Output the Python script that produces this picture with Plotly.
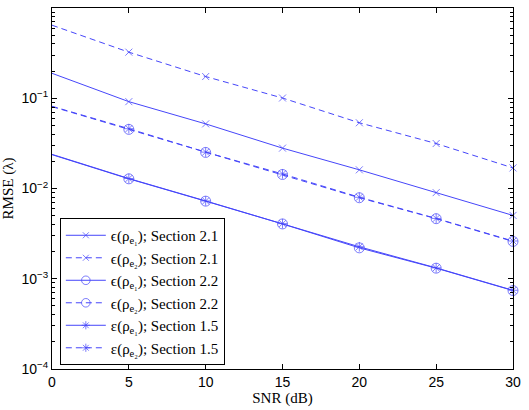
import plotly.graph_objects as go

snr = [0, 5, 10, 15, 20, 25, 30]

rmse_s21_e1 = [0.189, 0.0917, 0.052, 0.028, 0.0161, 0.0090, 0.00503]
rmse_s21_e2 = [0.645, 0.324, 0.174, 0.1006, 0.0535, 0.0315, 0.0169]
rmse_s22_e1 = [0.0237, 0.0128, 0.00724, 0.00405, 0.00220, 0.00131, 0.00074]
rmse_s22_e2 = [0.0808, 0.0452, 0.0251, 0.0143, 0.0079, 0.00463, 0.00259]
rmse_s15_e1 = [0.0239, 0.0129, 0.00728, 0.00408, 0.00226, 0.00132, 0.000745]
rmse_s15_e2 = [0.0815, 0.0460, 0.0253, 0.0145, 0.0080, 0.00466, 0.00262]

names = [
    "ϵ(ρ<sub>e₁</sub>); Section 2.1",
    "ϵ(ρ<sub>e₂</sub>); Section 2.1",
    "ϵ(ρ<sub>e₁</sub>); Section 2.2",
    "ϵ(ρ<sub>e₂</sub>); Section 2.2",
    "ε(ρ<sub>e₁</sub>); Section 1.5",
    "ε(ρ<sub>e₂</sub>); Section 1.5",
]
series = [rmse_s21_e1, rmse_s21_e2, rmse_s22_e1, rmse_s22_e2, rmse_s15_e1, rmse_s15_e2]
symbols = ["x-thin-open", "x-thin-open", "circle-open", "circle-open", "asterisk-open", "asterisk-open"]
sizes = [7, 7, 10, 10, 8, 8]
dashes = ["solid", "6px,4px", "solid", "6px,4px", "solid", "6px,4px"]

color = "rgb(70,70,250)"
fig = go.Figure()
for nm, ys, sym, sz, ds in zip(names, series, symbols, sizes, dashes):
    fig.add_trace(go.Scatter(
        x=snr, y=ys, name=nm, mode="lines+markers",
        line=dict(color=color, width=1, dash=ds),
        marker=dict(symbol=sym, size=[0] + [sz] * (len(snr) - 1), color=color,
                    line=dict(color=color, width=1)),
        cliponaxis=False,
    ))

tick_font = dict(family="Liberation Sans, Arial, sans-serif", size=14, color="black")
serif = "Liberation Serif, DejaVu Serif, serif"

yt = [1e-4, 1e-3, 1e-2, 1e-1, 1]
ytext = ["10<sup>−4</sup>", "10<sup>−3</sup>", "10<sup>−2</sup>", "10<sup>−1</sup>", "10<sup>0</sup>"]

fig.update_layout(
    width=529, height=410,
    margin=dict(l=50, r=16, t=7, b=38),
    paper_bgcolor="white", plot_bgcolor="white",
    showlegend=True,
    legend=dict(x=0.017, y=0.011, xanchor="left", yanchor="bottom",
                bgcolor="white", bordercolor="black", borderwidth=1,
                font=dict(family=serif, size=15, color="black"),
                tracegroupgap=0, itemwidth=40),
    xaxis=dict(range=[0, 30], tickvals=[0, 5, 10, 15, 20, 25, 30],
               ticks="inside", ticklen=5, tickcolor="black", mirror="allticks",
               showline=True, linecolor="black", linewidth=1, showgrid=False,
               zeroline=False, tickfont=tick_font,
               title=dict(text="SNR (dB)", font=dict(family=serif, size=15, color="black"), standoff=3)),
    yaxis=dict(type="log", range=[-4, 0], tickvals=yt, ticktext=ytext,
               ticks="inside", ticklen=5, tickcolor="black", mirror="allticks",
               showline=True, linecolor="black", linewidth=1, showgrid=False,
               zeroline=False, tickfont=tick_font,
               minor=dict(ticks="inside", ticklen=3, tickcolor="black", showgrid=False,
                          tickvals=[m * 10 ** e for e in range(-4, 0) for m in range(2, 10)]),
               title=dict(text="RMSE (λ)", font=dict(family=serif, size=15, color="black"), standoff=4)),
)

fig.write_html("out.html")
